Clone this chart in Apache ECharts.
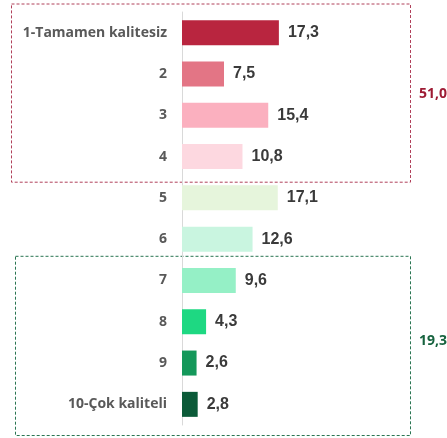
<!DOCTYPE html>
<html><head><meta charset="utf-8">
<script src="https://cdn.jsdelivr.net/npm/echarts@6/dist/echarts.min.js"></script>
<style>html,body{margin:0;padding:0;background:#fff}#c{width:447px;height:438px}</style>
</head><body><div id="c"></div>
<script>
const categories = ['1-Tamamen kalitesiz','2','3','4','5','6','7','8','9','10-Çok kaliteli'];
const values = [17.3, 7.5, 15.4, 10.8, 17.1, 12.6, 9.6, 4.3, 2.6, 2.8];
const colors = ['#b9253f','#e37585','#fbb0bf','#fdd8e0','#e6f5dc','#c9f5e0','#95f0c6','#1ed882','#14985a','#0b5a38'];
const lowGroup = [0,1,2,3];
const highGroup = [6,7,8,9];
const fmt = v => v.toFixed(1).replace('.', ',');
const SANS = '"Open Sans", "DejaVu Sans", sans-serif';
const ARIAL = '"Liberation Sans", Arial, sans-serif';

const chart = echarts.init(document.getElementById('c'), null, {renderer:'canvas'});
const option = {
  animation:false,
  grid:{left:182, right:41, top:12, bottom:13, containLabel:false},
  xAxis:{type:'value', min:0, max:40, show:false},
  yAxis:{type:'category', data:categories, inverse:true,
    axisLine:{show:true, lineStyle:{color:'#d9d9d9', width:1}},
    axisTick:{show:false},
    axisLabel:{fontFamily:SANS, fontWeight:700, fontSize:14, color:'#595959', margin:15}},
  series:[{type:'bar', barWidth:25,
    data: values.map((v,i)=>({value:v, itemStyle:{color:colors[i]}})),
    label:{show:true, position:'right', distance:9, formatter:p=>fmt(p.value),
      fontFamily:ARIAL, fontWeight:700, fontSize:16, color:'#3a3a3a'}}]
};
chart.setOption(option);

function bandEdges(idxs){
  const a = chart.convertToPixel({gridIndex:0},[0, idxs[0]]);
  const b = chart.convertToPixel({gridIndex:0},[0, idxs[idxs.length-1]]);
  const step = chart.convertToPixel({gridIndex:0},[0,1])[1]-chart.convertToPixel({gridIndex:0},[0,0])[1];
  return {top:a[1]-step/2, bottom:b[1]+step/2, mid:(a[1]+b[1])/2};
}
const lowSum = lowGroup.reduce((s,i)=>s+values[i],0);
const highSum = highGroup.reduce((s,i)=>s+values[i],0);
const L = bandEdges(lowGroup), H = bandEdges(highGroup);
const rightX = 410;
chart.setOption({graphic:[
  {type:'rect', shape:{x:11.5, y:L.top-8, width:rightX-11, height:(L.bottom+5)-(L.top-8)},
    style:{fill:'none', stroke:'#b0405a', lineWidth:1, lineDash:[3,2]}, silent:true},
  {type:'rect', shape:{x:15.5, y:H.top-3.5, width:rightX-15, height:(H.bottom+10.5)-(H.top-3.5)},
    style:{fill:'none', stroke:'#2a7552', lineWidth:1, lineDash:[3,2]}, silent:true},
  {type:'text', x:419, y:L.mid-8, style:{text:fmt(lowSum), fontFamily:SANS, fontWeight:700, fontSize:14, fill:'#9e1b34'}},
  {type:'text', x:419, y:H.mid-8, style:{text:fmt(highSum), fontFamily:SANS, fontWeight:700, fontSize:14, fill:'#17633f'}}
]});
</script></body></html>
